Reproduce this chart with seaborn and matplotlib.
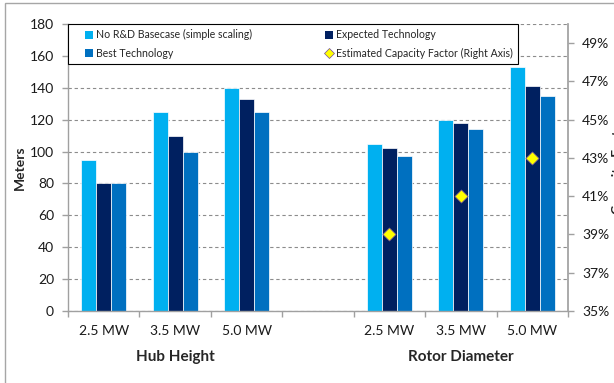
import numpy as np
import pandas as pd
import seaborn as sns
import matplotlib
matplotlib.use("Agg")
import matplotlib.pyplot as plt
from matplotlib.patches import Patch, Rectangle
from matplotlib.lines import Line2D
from matplotlib.legend_handler import HandlerBase
from matplotlib.ticker import FuncFormatter, FixedLocator, NullFormatter, FixedFormatter
import matplotlib.transforms as mtransforms

# ---- data ----
categories = ["2.5 MW", "3.5 MW", "5.0 MW"]
groups = ["Hub Height", "Rotor Diameter"]
series = ["No R&D Basecase (simple scaling)", "Expected Technology", "Best Technology"]
hub_no_rd = [95, 125, 140]
hub_expected = [80, 110, 133]
hub_best = [80, 100, 125]
rotor_no_rd = [105, 120, 153]
rotor_expected = [102, 118, 141]
rotor_best = [97, 114, 135]
capacity_factor = [39, 41, 43]  # percent, right axis (rotor diameter groups)
cf_label = "Estimated Capacity Factor (Right Axis)"
colors = ["#00B0F0", "#002060", "#0070C0"]

# ---- build table ----
rows = []
group_vals = {
    "Hub Height": [hub_no_rd, hub_expected, hub_best],
    "Rotor Diameter": [rotor_no_rd, rotor_expected, rotor_best],
}
for g in groups:
    for s, vals in zip(series, group_vals[g]):
        for c, v in zip(categories, vals):
            rows.append({"slot": f"{g}|{c}", "series": s, "value": v})
df = pd.DataFrame(rows)
hub_keys = [f"Hub Height|{c}" for c in categories]
rotor_keys = [f"Rotor Diameter|{c}" for c in categories]
order = hub_keys + ["gap"] + rotor_keys

sns.set_theme(style="white")
plt.rcParams["font.family"] = ["Lato", "DejaVu Sans"]

fig = plt.figure(figsize=(6.14, 3.83), dpi=100)
ax = fig.add_axes([68 / 614, 1 - 311 / 383, 500 / 614, 287 / 383])

sns.barplot(data=df, x="slot", y="value", hue="series", order=order,
            hue_order=series, palette=colors, width=0.63, saturation=1,
            edgecolor="white", linewidth=0.5, ax=ax, legend=False)

ax.set_ylim(0, 180)
ax.set_yticks(range(0, 181, 20))
ax.set_xlim(-0.5, len(order) - 0.5)
ax.yaxis.grid(True, color="#8C8C8C", linestyle=(0, (3, 2.5)), linewidth=0.8)
ax.xaxis.grid(False)
ax.set_axisbelow(True)

gray = "#A0A0A0"
for sp in ["top", "right"]:
    ax.spines[sp].set_visible(False)
for sp in ["left", "bottom"]:
    ax.spines[sp].set_color(gray)
    ax.spines[sp].set_linewidth(1)

# x ticks: marks at category boundaries, labels at centers
ax.xaxis.set_major_locator(FixedLocator(np.arange(-0.5, len(order), 1.0)))
ax.xaxis.set_major_formatter(NullFormatter())
ax.xaxis.set_minor_locator(FixedLocator(np.arange(len(order))))
minor_labels = categories + [""] + categories
ax.xaxis.set_minor_formatter(FixedFormatter(minor_labels))
ax.tick_params(axis="x", which="major", length=4, width=1, color=gray, direction="out", bottom=True)
ax.tick_params(axis="x", which="minor", length=0, pad=10, labelsize=10, labelcolor="#1a1a1a")
ax.tick_params(axis="y", length=4, width=1, color=gray, direction="out", left=True,
               pad=6, labelsize=10, labelcolor="#1a1a1a")
ax.set_xlabel("")
ax.set_ylabel("Meters", fontsize=10, fontweight="bold", labelpad=3)

trans = mtransforms.blended_transform_factory(ax.transData, ax.transAxes)
ax.text(1, -0.16, groups[0], transform=trans, ha="center", va="center",
        fontsize=11, fontweight="bold")
ax.text(5, -0.16, groups[1], transform=trans, ha="center", va="center",
        fontsize=11, fontweight="bold")

# right axis: capacity factor
ax2 = ax.twinx()
cf_x = [order.index(k) for k in rotor_keys]
sns.scatterplot(x=cf_x, y=capacity_factor, marker="D", s=45, color="#FFFF00",
                edgecolor="#6E4C9E", linewidth=0.5, ax=ax2, zorder=5, legend=False)
ax2.set_ylim(35, 50)
ax2.set_yticks(range(35, 50, 2))
ax2.yaxis.set_major_formatter(FuncFormatter(lambda v, p: f"{v:.0f}%"))
ax2.tick_params(axis="y", length=4, width=1, color=gray, direction="out", right=True,
                pad=6, labelsize=10, labelcolor="#1a1a1a")
for sp in ["top", "left", "bottom"]:
    ax2.spines[sp].set_visible(False)
ax2.spines["right"].set_color(gray)
ax2.grid(False)
ax2.set_xlim(-0.5, len(order) - 0.5)

# right axis title, clipped by the figure edge as in the reference
fig.text(618 / 614, 1 - 165 / 383, "Capacity Factor", rotation=90, ha="center",
         va="center", fontsize=10, fontweight="bold")


# legend with small keys aligned to the right of an indented handle box
class RightKey(HandlerBase):
    def create_artists(self, legend, orig_handle, xdescent, ydescent, width, height,
                       fontsize, trans):
        size = 0.75 * fontsize
        x0 = width - size - xdescent
        yc = height / 2 - ydescent
        if isinstance(orig_handle, Line2D):
            art = Line2D([x0 + size / 2], [yc], marker="D", linestyle="none",
                         markersize=5, markerfacecolor="#FFFF00",
                         markeredgecolor="#6E4C9E", markeredgewidth=0.5, transform=trans)
        else:
            art = Rectangle((x0, yc - size / 2), size, size,
                            facecolor=orig_handle.get_facecolor(), edgecolor="none",
                            transform=trans)
        return [art]


handles = [
    Patch(facecolor=colors[0], edgecolor="none", label=series[0]),
    Patch(facecolor=colors[2], edgecolor="none", label=series[2]),
    Patch(facecolor=colors[1], edgecolor="none", label=series[1]),
    Line2D([], [], marker="D", linestyle="none", label=cf_label),
]
handler = RightKey()
leg = ax2.legend(handles=handles, ncol=2, loc="upper left", bbox_to_anchor=(0.0, 0.0, 0.9, 1.0),
                 mode="expand", borderaxespad=0, fontsize=7.6, frameon=True, fancybox=False,
                 handlelength=1.9, handleheight=0.7, handletextpad=0.3,
                 labelspacing=0.7, borderpad=0.5, columnspacing=0.5,
                 handler_map={Patch: handler, Line2D: handler})
leg.get_frame().set_edgecolor("black")
leg.get_frame().set_linewidth(0.8)
leg.get_frame().set_facecolor("white")
leg.get_frame().set_alpha(1)

# outer chart border
fig.patches.append(Rectangle((5 / 614, -0.05), 1.2, 1.05 - 3 / 383, transform=fig.transFigure,
                             fill=False, edgecolor="#A6A6A6", linewidth=1))

fig.savefig("out.png", dpi=100)
